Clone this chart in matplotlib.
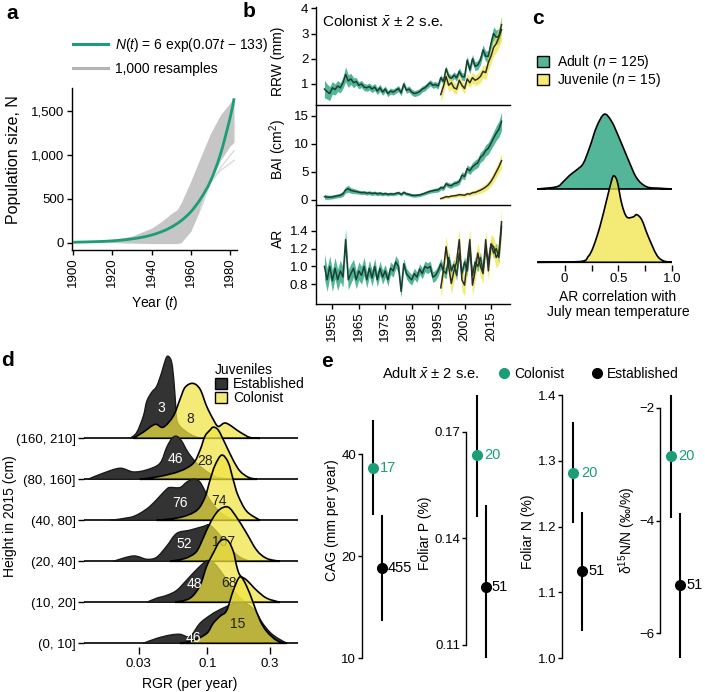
import numpy as np
import matplotlib
matplotlib.use("Agg")
import matplotlib.pyplot as plt
from matplotlib.path import Path
from matplotlib.patches import PathPatch, Patch
from matplotlib.lines import Line2D
import matplotlib.ticker as mticker
from matplotlib.colors import to_rgba

plt.rcParams['font.family'] = ['Liberation Sans', 'DejaVu Sans']
plt.rcParams['mathtext.fontset'] = 'custom'
plt.rcParams['mathtext.rm'] = 'Liberation Sans'
plt.rcParams['mathtext.it'] = 'Liberation Sans:italic'
plt.rcParams['font.size'] = 10
plt.rcParams['axes.linewidth'] = 1.0
for a in ('xtick', 'ytick'):
    plt.rcParams[a + '.major.width'] = 1.0
    plt.rcParams[a + '.major.size'] = 3.5
    plt.rcParams[a + '.major.pad'] = 2
    plt.rcParams[a + '.labelsize'] = 9.5

# ---------------- panel a data ----------------
a_years = [1900, 1905, 1910, 1915, 1920, 1925, 1930, 1935, 1940, 1945, 1950,
           1955, 1960, 1965, 1970, 1975, 1980, 1982]
a_fit = [5, 8, 11, 15, 21, 30, 43, 61, 87, 124, 176, 249, 351, 500, 700, 1000, 1420, 1640]
a_env_years = [1900, 1910, 1920, 1930, 1940, 1945, 1950, 1953, 1955, 1960, 1965,
               1970, 1975, 1980, 1982]
a_env_upper = [5, 15, 35, 75, 165, 240, 330, 375, 450, 700, 975, 1240, 1450, 1590, 1650]
a_env_lower = [0, 0, 0, -5, -10, -10, -10, -10, 0, 130, 390, 700, 930, 1100, 1140]
a_out_years = [1965, 1970, 1975, 1980, 1982]
a_out1 = [390, 690, 850, 990, 1045]
a_out2 = [390, 680, 820, 900, 935]

# ---------------- panel b data ----------------
b_years = np.arange(1952, 2020)
juv_years = np.arange(1996, 2020)
adult_rrw = [0.80, 0.70, 0.62, 0.85, 0.78, 0.92, 0.85, 1.05, 1.38, 1.12,
             1.20, 1.05, 1.10, 0.95, 1.00, 0.88, 0.85, 0.90, 0.80, 0.88,
             0.72, 0.85, 0.68, 0.80, 0.62, 0.72, 0.68, 0.75, 0.82, 0.65,
             1.00, 0.75, 0.80, 0.68, 0.62, 0.65, 0.70, 0.80, 0.85, 0.95,
             1.05, 0.95, 0.98, 0.92, 1.25, 1.10, 1.60, 1.30, 1.22, 1.35,
             1.25, 1.50, 1.30, 1.28, 1.95, 1.55, 2.00, 1.70, 1.75, 1.95,
             2.35, 2.10, 2.10, 2.60, 3.00, 2.85, 2.90, 3.35]
adult_rrw_se = [0.35, 0.30, 0.28, 0.25, 0.22, 0.22, 0.20, 0.22, 0.30, 0.25,
                0.22, 0.20, 0.15, 0.14, 0.14, 0.14, 0.14, 0.14, 0.14, 0.14,
                0.14, 0.14, 0.13, 0.12, 0.12, 0.12, 0.12, 0.12, 0.12, 0.12,
                0.12, 0.12, 0.12, 0.12, 0.12, 0.12, 0.12, 0.12, 0.12, 0.12,
                0.12, 0.12, 0.12, 0.12, 0.12, 0.12, 0.13, 0.13, 0.13, 0.13,
                0.14, 0.14, 0.15, 0.15, 0.16, 0.16, 0.17, 0.17, 0.18, 0.19,
                0.20, 0.21, 0.22, 0.24, 0.26, 0.28, 0.30, 0.32]
juv_rrw = [0.58, 0.90, 1.30, 0.95, 1.05, 0.85, 0.80, 1.15, 0.95, 0.82,
           1.20, 1.05, 1.25, 1.15, 1.20, 1.30, 1.50, 1.45, 1.85, 2.10,
           2.45, 2.60, 2.85, 3.15]
juv_rrw_se = [0.28, 0.28, 0.28, 0.25, 0.25, 0.22, 0.20, 0.22, 0.20, 0.20,
              0.22, 0.20, 0.22, 0.20, 0.22, 0.25, 0.25, 0.28, 0.30, 0.30,
              0.32, 0.35, 0.40, 0.45]
adult_bai = [0.60, 0.50, 0.50, 0.55, 0.65, 0.75, 0.85, 1.10, 1.80, 2.00,
             1.70, 1.60, 1.50, 1.40, 1.30, 1.35, 1.20, 1.30, 1.15, 1.25,
             1.10, 1.20, 1.05, 1.15, 1.00, 1.10, 1.05, 1.15, 1.30, 1.00,
             1.35, 1.10, 1.00, 0.85, 0.80, 0.85, 0.90, 1.05, 1.20, 1.40,
             1.55, 1.65, 1.75, 1.80, 2.20, 2.10, 2.90, 2.60, 2.55, 2.90,
             3.00, 3.30, 4.40, 4.20, 5.60, 5.20, 5.90, 6.30, 6.60, 7.60,
             8.00, 8.80, 9.20, 10.10, 11.00, 11.90, 12.60, 14.00]
adult_bai_se = [0.45, 0.40, 0.35, 0.35, 0.35, 0.35, 0.40, 0.45, 0.55, 0.60,
                0.50, 0.45, 0.40, 0.35, 0.35, 0.35, 0.35, 0.35, 0.35, 0.35,
                0.35, 0.35, 0.32, 0.30, 0.30, 0.30, 0.30, 0.30, 0.30, 0.30,
                0.30, 0.30, 0.30, 0.30, 0.30, 0.30, 0.30, 0.30, 0.30, 0.32,
                0.34, 0.36, 0.38, 0.40, 0.40, 0.40, 0.45, 0.45, 0.45, 0.50,
                0.50, 0.55, 0.60, 0.60, 0.65, 0.70, 0.75, 0.80, 0.85, 0.90,
                0.95, 1.00, 1.05, 1.10, 1.20, 1.30, 1.40, 1.60]
juv_bai = [0.25, 0.40, 0.60, 0.55, 0.70, 0.75, 0.80, 0.95, 0.90, 0.85,
           1.10, 1.05, 1.30, 1.35, 1.55, 1.75, 2.00, 2.30, 2.70, 3.30,
           4.10, 5.00, 5.90, 7.00]
juv_bai_se = [0.25, 0.25, 0.30, 0.30, 0.30, 0.30, 0.30, 0.35, 0.35, 0.35,
              0.40, 0.40, 0.45, 0.45, 0.50, 0.55, 0.60, 0.65, 0.70, 0.80,
              0.90, 1.00, 1.10, 1.30]
adult_ar = [1.00, 0.85, 1.00, 0.84, 0.98, 0.85, 0.95, 0.88, 1.30, 0.85,
            0.92, 0.98, 0.85, 0.95, 0.90, 1.00, 0.85, 0.98, 0.87, 1.00,
            0.85, 0.98, 0.88, 0.95, 0.85, 0.98, 0.95, 1.05, 1.00, 0.72,
            1.03, 0.92, 0.88, 0.85, 0.92, 0.88, 0.97, 0.92, 1.00, 0.98,
            1.00, 0.88, 0.90, 0.95, 1.03, 0.95, 0.92, 1.10, 0.95, 1.02,
            0.90, 1.15, 0.92, 1.05, 0.95, 1.20, 0.90, 1.05, 1.00, 1.10,
            0.95, 1.20, 1.05, 1.25, 1.15, 1.20, 1.10, 1.45]
adult_ar_se = [0.14, 0.13, 0.12, 0.12, 0.12, 0.12, 0.12, 0.11, 0.12, 0.11,
               0.11, 0.10, 0.10, 0.10, 0.10, 0.10, 0.09, 0.09, 0.09, 0.09,
               0.08, 0.08, 0.08, 0.07, 0.07, 0.07, 0.07, 0.07, 0.07, 0.07,
               0.06, 0.06, 0.06, 0.06, 0.06, 0.06, 0.06, 0.06, 0.06, 0.06,
               0.06, 0.06, 0.06, 0.06, 0.06, 0.06, 0.06, 0.06, 0.06, 0.06,
               0.06, 0.06, 0.06, 0.06, 0.06, 0.06, 0.06, 0.06, 0.06, 0.06,
               0.06, 0.06, 0.06, 0.06, 0.06, 0.06, 0.06, 0.06]
juv_ar = [0.76, 0.95, 1.22, 1.00, 0.81, 0.95, 1.05, 1.30, 0.85, 0.79,
          1.05, 1.30, 0.79, 0.95, 1.15, 1.00, 0.92, 1.30, 0.95, 1.25,
          1.22, 1.10, 1.15, 1.50]
juv_ar_se = [0.12, 0.12, 0.12, 0.12, 0.12, 0.12, 0.12, 0.12, 0.12, 0.12,
             0.12, 0.12, 0.12, 0.12, 0.12, 0.12, 0.11, 0.11, 0.11, 0.11,
             0.11, 0.12, 0.12, 0.14]

# ---------------- panel c data ----------------
c_adult_x = [-0.255, -0.075, -0.013, 0.049, 0.111, 0.173, 0.235, 0.297, 0.368,
             0.437, 0.514, 0.591, 0.669, 0.762, 0.886, 1.0]
c_adult_d = [0, 0.03, 0.10, 0.19, 0.26, 0.35, 0.58, 0.85, 1.02, 0.92, 0.67,
             0.40, 0.15, 0.03, 0.01, 0]
c_juv_x = [-0.255, 0.142, 0.219, 0.266, 0.328, 0.39, 0.437, 0.458, 0.489, 0.53,
           0.576, 0.638, 0.669, 0.716, 0.777, 0.855, 0.917, 1.0]
c_juv_d = [0, 0.01, 0.08, 0.21, 0.49, 0.85, 1.12, 1.18, 1.10, 0.80, 0.62, 0.62,
           0.65, 0.58, 0.35, 0.10, 0.02, 0]

# ---------------- panel d data ----------------
d_rows = ["(0, 10]", "(10, 20]", "(20, 40]", "(40, 80]", "(80, 160]", "(160, 210]"]
d_est_n = [46, 48, 52, 76, 46, 3]
d_col_n = [15, 68, 107, 74, 28, 8]
d_est_rgr = [
    [0.0325, 0.0411, 0.0519, 0.0619, 0.0738, 0.0880, 0.1049, 0.1180, 0.1365,
     0.1630, 0.1943, 0.2312, 0.2617, 0.3010, 0.3465, 0.4059],
    [0.0345, 0.0411, 0.0490, 0.0584, 0.0696, 0.0806, 0.0932, 0.1018, 0.1145,
     0.1365, 0.1630, 0.1943],
    [0.01916, 0.0272, 0.0345, 0.0411, 0.0490, 0.0584, 0.0738, 0.0932, 0.1049,
     0.1250, 0.1491, 0.1777, 0.2118],
    [0.01808, 0.0257, 0.0306, 0.0365, 0.0435, 0.0490, 0.0519, 0.0619, 0.0696,
     0.0782, 0.0880, 0.1049, 0.1250, 0.1543, 0.1777],
    [0.01228, 0.01607, 0.02157, 0.0272, 0.0345, 0.0435, 0.0490, 0.0538, 0.0584,
     0.0638, 0.0712, 0.0820, 0.0960, 0.1145, 0.1414],
    [0.0257, 0.0289, 0.0325, 0.0345, 0.0376, 0.0411, 0.0449, 0.0481, 0.0504,
     0.0535, 0.0557, 0.0574, 0.0584, 0.0619, 0.0738, 0.0880],
]
d_est_dens = [
    [0, 0.12, 0.20, 0.22, 0.17, 0.49, 0.68, 0.78, 0.88, 0.98, 0.98, 0.80, 0.51,
     0.27, 0.12, 0],
    [0, 0.10, 0.17, 0.29, 0.54, 0.76, 0.95, 1.02, 0.93, 0.61, 0.24, 0],
    [0, 0.13, 0.05, 0.10, 0.37, 0.68, 0.76, 0.85, 0.88, 0.63, 0.32, 0.10, 0],
    [0, 0.07, 0.17, 0.34, 0.59, 0.76, 0.80, 0.80, 0.93, 1.00, 0.93, 0.49, 0.20,
     0.02, 0],
    [0, 0.15, 0.27, 0.18, 0.23, 0.39, 0.78, 1.00, 1.05, 0.93, 0.66, 0.41, 0.22,
     0.07, 0],
    [0, 0.14, 0.54, 0.90, 1.12, 1.27, 1.61, 1.93, 2.00, 1.85, 1.37, 0.78, 0.46,
     0.29, 0.10, 0],
]
d_col_rgr = [
    [0.0619, 0.0782, 0.0989, 0.1111, 0.1250, 0.1406, 0.1580, 0.1777, 0.1999,
     0.2245, 0.2525, 0.2841, 0.3387, 0.4038],
    [0.0567, 0.0738, 0.0880, 0.0989, 0.1111, 0.1250, 0.1426, 0.1580, 0.1677,
     0.1777, 0.1999, 0.2383, 0.2841, 0.3589],
    [0.0519, 0.0676, 0.0806, 0.0880, 0.0989, 0.1111, 0.1250, 0.1446, 0.1677,
     0.1999, 0.2383, 0.2841, 0.3589],
    [0.0411, 0.0619, 0.0830, 0.0960, 0.1049, 0.1145, 0.1288, 0.1446, 0.1580,
     0.1715, 0.1999, 0.2525],
    [0.0306, 0.0435, 0.0619, 0.0782, 0.0880, 0.0960, 0.1049, 0.1111, 0.1213,
     0.1365, 0.1580, 0.1777, 0.2056, 0.2383],
    [0.0272, 0.0325, 0.0399, 0.0461, 0.0550, 0.0619, 0.0676, 0.0774, 0.0880,
     0.0989, 0.1111, 0.1213, 0.1389, 0.1777, 0.2118, 0.2525],
]
d_col_dens = [
    [0, 0.07, 0.24, 0.49, 0.66, 0.80, 1.29, 1.62, 1.39, 0.98, 0.56, 0.29, 0.07, 0],
    [0, 0.10, 0.41, 0.88, 1.20, 1.49, 1.51, 1.24, 0.88, 0.66, 0.54, 0.29, 0.10, 0],
    [0, 0.07, 0.20, 0.39, 0.76, 1.07, 1.27, 1.32, 1.07, 0.68, 0.27, 0.07, 0],
    [0, 0.07, 0.24, 0.56, 0.98, 1.34, 1.59, 1.41, 0.98, 0.61, 0.22, 0],
    [0, 0.07, 0.20, 0.39, 0.71, 1.05, 1.20, 1.27, 1.20, 0.88, 0.46, 0.20, 0.05, 0],
    [0, 0.15, 0.34, 0.27, 0.54, 0.95, 1.24, 1.34, 1.20, 0.78, 0.46, 0.29, 0.37,
     0.15, 0.02, 0],
]

# ---------------- panel e data ----------------
e_labels = ["CAG (mm per year)", "Foliar P (%)", "Foliar N (%)", "δ$^{15}$N/N (‰/%)"]
e_col_mean = [36.4, 0.1633, 1.282, -2.86]
e_col_lo = [26.4, 0.1461, 1.206, -3.96]
e_col_hi = [50.4, 0.1803, 1.359, -1.78]
e_col_n = [17, 20, 20, 20]
e_est_mean = [18.5, 0.1264, 1.132, -5.14]
e_est_lo = [12.9, 0.1062, 1.042, -6.44]
e_est_hi = [26.5, 0.1494, 1.222, -3.86]
e_est_n = [455, 51, 51, 51]
e_ticks = [[10, 20, 40], [0.11, 0.14, 0.17], [1.0, 1.1, 1.2, 1.3, 1.4], [-6, -4, -2]]
e_ticklabels = [["10", "20", "40"], ["0.11", "0.14", "0.17"],
                ["1.0", "1.1", "1.2", "1.3", "1.4"], ["\u22126", "\u22124", "\u22122"]]

# ---------------- colours ----------------
GREEN = '#1b9e77'
GREEN_BAND = to_rgba('#1b9e77', 0.75)
GREEN_LINE = '#183f33'
YELLOW = to_rgba('#f0e442', 0.72)
DARK = '#333333'

W, H = 705, 692
fig = plt.figure(figsize=(W / 100, H / 100), dpi=100)


def add_ax(l, t, r, b):
    return fig.add_axes([l / W, 1 - b / H, (r - l) / W, (b - t) / H])


def smooth_path(xs, ys, base=0.0, logx=False, closed=False):
    X = np.log10(np.asarray(xs, float)) if logx else np.asarray(xs, float)
    Y = np.asarray(ys, float) + base
    P = np.column_stack([X, Y])
    n = len(P)
    verts = [P[0]]
    codes = [Path.MOVETO]
    for i in range(n - 1):
        p0 = P[max(i - 1, 0)]
        p1 = P[i]
        p2 = P[i + 1]
        p3 = P[min(i + 2, n - 1)]
        c1 = p1 + (p2 - p0) / 6.0
        c2 = p2 - (p3 - p1) / 6.0
        c1[1] = max(c1[1], base)
        c2[1] = max(c2[1], base)
        verts += [c1, c2, p2]
        codes += [Path.CURVE4] * 3
    if closed:
        verts += [np.array([X[-1], base]), np.array([X[0], base]), np.array([X[0], base])]
        codes += [Path.LINETO, Path.LINETO, Path.CLOSEPOLY]
    V = np.array(verts)
    if logx:
        V[:, 0] = 10 ** V[:, 0]
    return Path(V, codes)


def letter(x, y, s):
    fig.text(x / W, 1 - y / H, s, fontsize=15, fontweight='bold', ha='left', va='top')


# ================= panel a =================
ax = add_ax(72, 88, 237, 250)
ax.fill_between(a_env_years, a_env_lower, a_env_upper, color='#c6c6c6', lw=0, zorder=1)
ax.plot(a_out_years, a_out1, color='#dcdcdc', lw=1, zorder=1)
ax.plot(a_out_years, a_out2, color='#dcdcdc', lw=1, zorder=1)
ax.add_patch(PathPatch(smooth_path(a_years, a_fit), fill=False, ec=GREEN, lw=2.0, zorder=3))
ax.set_xlim(1899.5, 1983.5)
ax.set_ylim(-83, 1758)
ax.set_xticks([1900, 1920, 1940, 1960, 1980])
ax.set_yticks([0, 500, 1000, 1500])
ax.yaxis.set_major_formatter(mticker.FuncFormatter(lambda v, p: f"{int(v):,}"))
ax.tick_params(axis='x', labelrotation=90)
for s in ('top', 'right'):
    ax.spines[s].set_visible(False)
fig.text(14 / W, 1 - 160 / H, "Population size, N", rotation=90, ha='center', va='center',
         fontsize=11.5)
fig.text(155 / W, 1 - 303 / H, r"Year ($\mathit{t}$)", ha='center', va='center')
hl = [Line2D([], [], color=GREEN, lw=2.2), Line2D([], [], color='#b4b4b4', lw=2.2)]
ax.legend(hl, [r"$\mathit{N}$($\mathit{t}$) = 6 exp(0.07$\mathit{t}$ " + "\u2212 133)",
               "1,000 resamples"],
          loc='upper left', bbox_to_anchor=(73 / W, 1 - 36 / H), bbox_transform=fig.transFigure,
          frameon=False, borderpad=0, borderaxespad=0, handlelength=2.5, handletextpad=0.5,
          labelspacing=0.6, fontsize=10)
letter(6, 4, "a")

# ================= panel b =================
axR = add_ax(316, 7, 510, 105)
axB = add_ax(316, 105, 510, 205)
axA = add_ax(316, 205, 510, 304)
series = [(axR, adult_rrw, adult_rrw_se, juv_rrw, juv_rrw_se, (0.168, 4.05), [1, 2, 3, 4], ["1", "2", "3", "4"]),
          (axB, adult_bai, adult_bai_se, juv_bai, juv_bai_se, (-0.89, 16.9), [0, 5, 10, 15], ["0", "5", "10", "15"]),
          (axA, adult_ar, adult_ar_se, juv_ar, juv_ar_se, (0.579, 1.688), [0.8, 1.0, 1.2, 1.4], ["0.8", "1.0", "1.2", "1.4"])]
for axx, am, ase, jm, jse, yl, yt, ytl in series:
    am = np.array(am); ase = np.array(ase); jm = np.array(jm); jse = np.array(jse)
    axx.fill_between(b_years, am - ase, am + ase, color=GREEN_BAND, lw=0, zorder=1)
    axx.fill_between(juv_years, jm - jse, jm + jse, color=YELLOW, lw=0, zorder=2)
    axx.plot(b_years, am, color=GREEN_LINE, lw=1.1, zorder=3)
    axx.plot(juv_years, jm, color='#2b2b2b', lw=1.1, zorder=4)
    axx.set_xlim(1948.8, 2022.2)
    axx.set_ylim(*yl)
    axx.set_yticks(yt)
    axx.set_yticklabels(ytl)
    axx.set_xticks([1955, 1965, 1975, 1985, 1995, 2005, 2015])
    for s in ('top', 'right'):
        axx.spines[s].set_visible(False)
    axx.patch.set_alpha(0)
for axx in (axR, axB):
    axx.tick_params(axis='x', bottom=False, labelbottom=False)
axA.tick_params(axis='x', labelrotation=90)
fig.text(278 / W, 1 - 61 / H, "RRW (mm)", rotation=90, ha='center', va='center')
fig.text(278 / W, 1 - 149 / H, r"BAI (cm$^{2}$)", rotation=90, ha='center', va='center')
fig.text(278 / W, 1 - 238 / H, "AR", rotation=90, ha='center', va='center')
fig.text(322 / W, 1 - 22 / H, r"Colonist $\bar{\mathit{x}}$ ± 2 s.e.", ha='left', va='center',
         fontsize=11)
letter(243, 2, "b")

# ================= panel c =================
axc = add_ax(536.7, 100, 672.3, 265)
axc.add_patch(PathPatch(smooth_path(c_adult_x, c_adult_d, base=1.0, closed=True),
                        fc=GREEN_BAND, ec='black', lw=1.2, zorder=2))
axc.add_patch(PathPatch(smooth_path(c_juv_x, c_juv_d, base=0.0, closed=True),
                        fc=YELLOW, ec='black', lw=1.2, zorder=3))
axc.set_xlim(-0.26, 1.0)
axc.set_ylim(-0.037, 2.214)
axc.set_xticks([0, 0.5, 1.0])
axc.set_xticklabels(["0", "0.5", "1.0"])
axc.set_xticks([0.25, 0.75], minor=True)
axc.tick_params(axis='x', which='both', length=4, width=1.0)
axc.set_yticks([])
for s in axc.spines.values():
    s.set_visible(False)
axc.patch.set_alpha(0)
fig.text(618 / W, 1 - 297 / H, "AR correlation with", ha='center', va='center')
fig.text(618 / W, 1 - 312 / H, "July mean temperature", ha='center', va='center')
hc = [Patch(fc=GREEN_BAND, ec='black', lw=1.0), Patch(fc=YELLOW, ec='black', lw=1.0)]
axc.legend(hc, [r"Adult ($\mathit{n}$ = 125)", r"Juvenile ($\mathit{n}$ = 15)"],
           loc='upper left', bbox_to_anchor=(537 / W, 1 - 53 / H), bbox_transform=fig.transFigure,
           frameon=False, borderpad=0, borderaxespad=0, handlelength=0.85, handleheight=0.85,
           handletextpad=0.6, labelspacing=0.0, fontsize=10)
letter(532, 9, "c")

# ================= panel d =================
axd = add_ax(84, 350, 298.3, 647)
axd.set_xscale('log')
axd.set_xlim(0.011452, 0.4951)
axd.set_ylim(-0.09, 7.153)
est_lab_pos = [(0.0782, 0.12), (0.0792, 1.45), (0.0667, 2.42), (0.0619, 3.42), (0.0574, 4.50), (0.0449, 5.75)]
col_lab_pos = [(0.1706, 0.47), (0.1472, 1.46), (0.1325, 2.48), (0.1235, 3.46), (0.0960, 4.45), (0.0738, 5.48)]
for k in range(5, -1, -1):
    z = 10 + (5 - k) * 5
    axd.axhline(k, color='black', lw=1.2, zorder=z)
    axd.add_patch(PathPatch(smooth_path(d_est_rgr[k], d_est_dens[k], base=k, logx=True, closed=True),
                            fc=DARK, ec='#1a1a1a', lw=1.0, zorder=z + 1))
    axd.add_patch(PathPatch(smooth_path(d_col_rgr[k], d_col_dens[k], base=k, logx=True, closed=True),
                            fc=YELLOW, ec='black', lw=1.2, zorder=z + 2))
    axd.text(est_lab_pos[k][0], est_lab_pos[k][1], str(d_est_n[k]), color='white',
             ha='center', va='center', fontsize=10, zorder=z + 3)
    axd.text(col_lab_pos[k][0], col_lab_pos[k][1], str(d_col_n[k]), color='#222222',
             ha='center', va='center', fontsize=10, zorder=z + 3)
axd.set_xticks([0.03, 0.1, 0.3])
axd.set_xticklabels(["0.03", "0.1", "0.3"])
axd.xaxis.set_minor_locator(mticker.NullLocator())
axd.set_yticks(range(6))
axd.set_yticklabels(d_rows)
axd.tick_params(axis='x', length=5, width=1.0, pad=3)
axd.tick_params(axis='y', length=4, width=1.0)
for s in axd.spines.values():
    s.set_visible(False)
axd.patch.set_alpha(0)
fig.text(10 / W, 1 - 516 / H, "Height in 2015 (cm)", rotation=90, ha='center', va='center')
fig.text(190 / W, 1 - 684 / H, "RGR (per year)", ha='center', va='center')
hd = [Patch(fc=DARK, ec='black', lw=1.0), Patch(fc=YELLOW, ec='black', lw=1.0)]
leg = axd.legend(hd, ["Established", "Colonist"], title="Juveniles", loc='upper left',
                 bbox_to_anchor=(215 / W, 1 - 363 / H), bbox_transform=fig.transFigure,
                 frameon=False, borderpad=0, borderaxespad=0, handlelength=0.85, handleheight=0.85,
                 handletextpad=0.45, labelspacing=0.0, fontsize=10, title_fontsize=10,
                 alignment='left')
leg.set_zorder(100)
letter(1, 351, "d")

# ================= panel e =================
e_spine_px = [361.7, 465.7, 562.3, 660.0]
e_ylims = [(9.556, 61.8), (0.10437, 0.1817), (0.9898, 1.4076), (-6.56, -1.686)]
e_label_px = [332, 425, 528, 627]
e_label_py = [520, 533, 532, 530]
for i in range(4):
    axe = add_ax(e_spine_px[i], 390, e_spine_px[i] + 40, 665)
    if i == 0:
        axe.set_yscale('log')
    axe.set_xlim(-1.222, 3.222)
    axe.set_ylim(*e_ylims[i])
    axe.vlines([0], [e_col_lo[i]], [e_col_hi[i]], color='black', lw=1.5, zorder=2)
    axe.vlines([1], [e_est_lo[i]], [e_est_hi[i]], color='black', lw=1.5, zorder=2)
    axe.plot([0], [e_col_mean[i]], 'o', color=GREEN, ms=7, zorder=3)
    axe.plot([1], [e_est_mean[i]], 'o', color='black', ms=7, zorder=3)
    axe.annotate(str(e_col_n[i]), (0, e_col_mean[i]), xytext=(5.5, 0), textcoords='offset points',
                 ha='left', va='center', color=GREEN, fontsize=10.5)
    axe.annotate(str(e_est_n[i]), (1, e_est_mean[i]), xytext=(4.5, 0), textcoords='offset points',
                 ha='left', va='center', color='black', fontsize=10.5)
    axe.set_yticks(e_ticks[i])
    axe.set_yticklabels(e_ticklabels[i])
    axe.yaxis.set_minor_locator(mticker.NullLocator())
    axe.tick_params(axis='y', length=3, pad=1)
    axe.set_xticks([])
    for s in ('top', 'right', 'bottom'):
        axe.spines[s].set_visible(False)
    axe.spines['left'].set_bounds(min(e_ticks[i]), max(e_ticks[i]))
    axe.patch.set_alpha(0)
    fig.text(e_label_px[i] / W, 1 - e_label_py[i] / H, e_labels[i], rotation=90,
             ha='center', va='center')
fig.text(382 / W, 1 - 374 / H, r"Adult $\bar{\mathit{x}}$ ± 2 s.e.", ha='left', va='center',
         fontsize=10.5)
he = [Line2D([], [], marker='o', ls='', color=GREEN, ms=7),
      Line2D([], [], marker='o', ls='', color='black', ms=7)]
fig.legend(he, ["Colonist", "Established"], loc='center left', ncol=2,
           bbox_to_anchor=(498.5 / W, 1 - 374 / H), frameon=False, borderpad=0, borderaxespad=0,
           handlelength=0.8, handletextpad=0.3, columnspacing=2.0, fontsize=10)
letter(321, 352, "e")

fig.savefig("out.png", dpi=100)
